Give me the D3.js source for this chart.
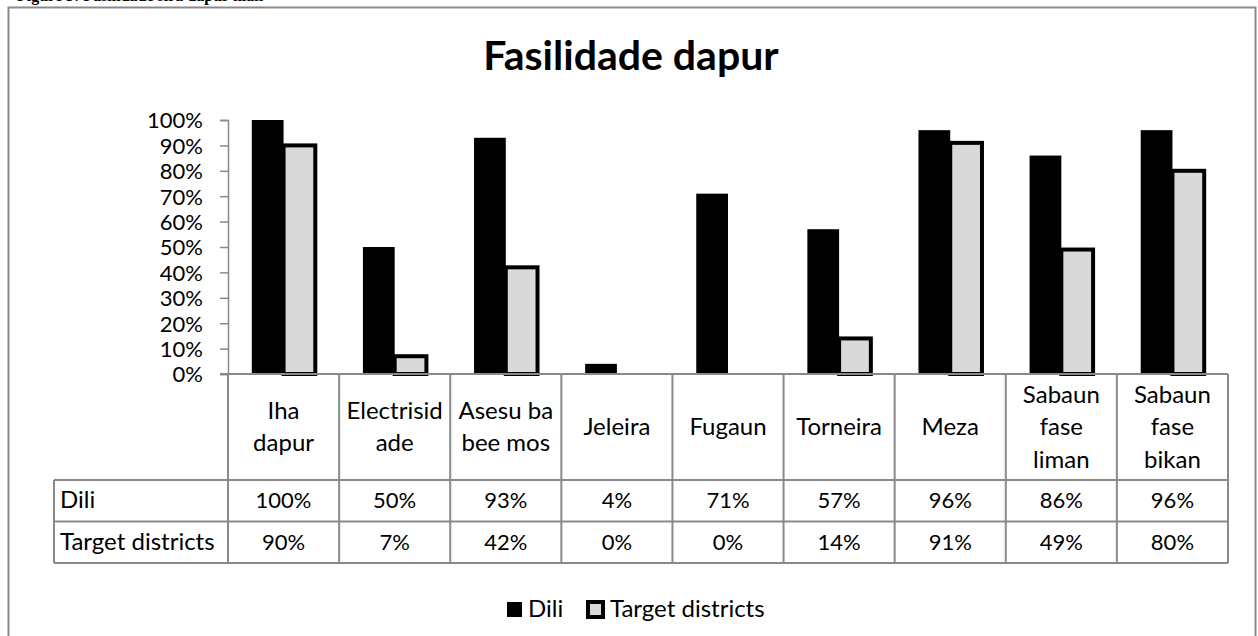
<!DOCTYPE html>
<html>
<head>
<meta charset="utf-8">
<script src="https://cdn.jsdelivr.net/npm/d3@7"></script>
<style>
  html, body { margin: 0; padding: 0; background: #fff; overflow: hidden; }
  svg { display: block; }
  text { font-family: Lato, "Noto Sans", sans-serif; fill: #000; }
</style>
</head>
<body>
<svg id="chart" width="1258" height="636"></svg>
<script>
// ---- data ----
const captionText = "Figure 3: Fasilidade sira dapur nian";
const titleText = "Fasilidade dapur";
const categories = ["Iha dapur", "Electrisidade", "Asesu ba bee mos", "Jeleira", "Fugaun", "Torneira", "Meza", "Sabaun fase liman", "Sabaun fase bikan"];
const categoryLines = [["Iha", "dapur"], ["Electrisid", "ade"], ["Asesu ba", "bee mos"], ["Jeleira"], ["Fugaun"], ["Torneira"], ["Meza"], ["Sabaun", "fase", "liman"], ["Sabaun", "fase", "bikan"]];
const seriesNames = ["Dili", "Target districts"];
const diliValues = [1.00, 0.50, 0.93, 0.04, 0.71, 0.57, 0.96, 0.86, 0.96];
const targetValues = [0.90, 0.07, 0.42, 0.00, 0.00, 0.14, 0.91, 0.49, 0.80];
const yTicks = [0, 0.1, 0.2, 0.3, 0.4, 0.5, 0.6, 0.7, 0.8, 0.9, 1.0];

// ---- layout ----
const svg = d3.select("#chart");
const plotLeft = 228, plotRight = 1228, plotTop = 120, plotBottom = 374;
const tableLeft = 54, headerBottom = 480, rowH = 41.5;
const gridColor = "#898989";
const seriesFill = ["#000000", "#d9d9d9"];
const wordSize = "24px", numSize = "22px";

const x = d3.scaleBand().domain(categories).range([plotLeft, plotRight]).paddingInner(0).paddingOuter(0);
const xs = d3.scaleBand().domain(seriesNames).range([0, x.bandwidth()]).paddingInner(0).paddingOuter(0.75);
const y = d3.scaleLinear().domain([0, 1]).range([plotBottom, plotTop]);

// caption (cut at top)
svg.append("text").attr("x", 17).attr("y", 1)
  .style("font-family", "'Liberation Serif', serif").style("font-weight", "bold").style("font-size", "16px")
  .text(captionText);

// chart border
svg.append("rect").attr("x", 8.5).attr("y", 7.5).attr("width", 1247).attr("height", 660)
  .attr("fill", "none").attr("stroke", gridColor).attr("stroke-width", 2);

// title
svg.append("text").attr("x", 631).attr("y", 70).attr("text-anchor", "middle")
  .style("font-weight", "bold").style("font-size", "41px").text(titleText);

// y axis
const yAxis = d3.axisLeft(y).tickValues(yTicks).tickFormat(d3.format(".0%")).tickSize(8).tickPadding(17);
const gy = svg.append("g").attr("transform", `translate(${plotLeft},0)`).call(yAxis);
gy.select(".domain").attr("stroke", gridColor).attr("stroke-width", 1.5);
gy.selectAll(".tick line").attr("stroke", gridColor).attr("stroke-width", 1.5);
gy.selectAll(".tick text").style("font-size", numSize).style("font-family", "Lato, sans-serif").attr("fill", "#000").attr("dy", "0.36em");

// bars
const barData = [];
categories.forEach((c, i) => {
  barData.push({ cat: c, s: seriesNames[0], v: diliValues[i], k: 0 });
  barData.push({ cat: c, s: seriesNames[1], v: targetValues[i], k: 1 });
});
svg.append("g").selectAll("rect").data(barData).join("rect")
  .attr("x", d => x(d.cat) + xs(d.s))
  .attr("y", d => y(d.v))
  .attr("width", xs.bandwidth())
  .attr("height", d => y(0) - y(d.v))
  .attr("fill", d => seriesFill[d.k])
  .attr("stroke", d => (d.k === 1 && d.v > 0) ? "#000" : "none")
  .attr("stroke-width", 4);

// category axis line
svg.append("line").attr("x1", plotLeft - 8).attr("x2", plotRight).attr("y1", plotBottom).attr("y2", plotBottom)
  .attr("stroke", gridColor).attr("stroke-width", 2);

// data table
const tableBottom = headerBottom + 2 * rowH;
const tg = svg.append("g");
const bounds = categories.map(c => x(c)).concat([plotRight]);
tg.selectAll("line.v").data(bounds).join("line")
  .attr("x1", d => d).attr("x2", d => d).attr("y1", plotBottom).attr("y2", tableBottom)
  .attr("stroke", gridColor).attr("stroke-width", 2);
tg.append("line").attr("x1", tableLeft).attr("x2", tableLeft).attr("y1", headerBottom).attr("y2", tableBottom)
  .attr("stroke", gridColor).attr("stroke-width", 2);
[headerBottom, headerBottom + rowH, tableBottom].forEach(yy => {
  tg.append("line").attr("x1", tableLeft).attr("x2", plotRight).attr("y1", yy).attr("y2", yy)
    .attr("stroke", gridColor).attr("stroke-width", 2);
});
// header labels
const lineGap = 32.5;
categories.forEach((c, i) => {
  const lines = categoryLines[i];
  const t = tg.append("text").attr("text-anchor", "middle").style("font-size", wordSize);
  lines.forEach((ln, j) => {
    t.append("tspan").attr("x", x(c) + x.bandwidth() / 2)
      .attr("y", 435 + (j - (lines.length - 1) / 2) * lineGap).text(ln);
  });
});
// rows
const rows = [diliValues, targetValues];
rows.forEach((vals, r) => {
  const baseY = headerBottom + r * rowH + 28;
  tg.append("text").attr("x", 60).attr("y", baseY).style("font-size", wordSize).text(seriesNames[r]);
  categories.forEach((c, i) => {
    tg.append("text").attr("x", x(c) + x.bandwidth() / 2).attr("y", baseY).attr("text-anchor", "middle")
      .style("font-size", numSize).text(d3.format(".0%")(vals[i]));
  });
});

// legend
const lg = svg.append("g");
lg.append("rect").attr("x", 507).attr("y", 602).attr("width", 15).attr("height", 15).attr("fill", seriesFill[0]);
lg.append("text").attr("x", 528).attr("y", 617).style("font-size", wordSize).text(seriesNames[0]);
lg.append("rect").attr("x", 588).attr("y", 602).attr("width", 15).attr("height", 15)
  .attr("fill", seriesFill[1]).attr("stroke", "#000").attr("stroke-width", 4);
lg.append("text").attr("x", 610).attr("y", 617).style("font-size", wordSize).text(seriesNames[1]);
</script>
</body>
</html>
